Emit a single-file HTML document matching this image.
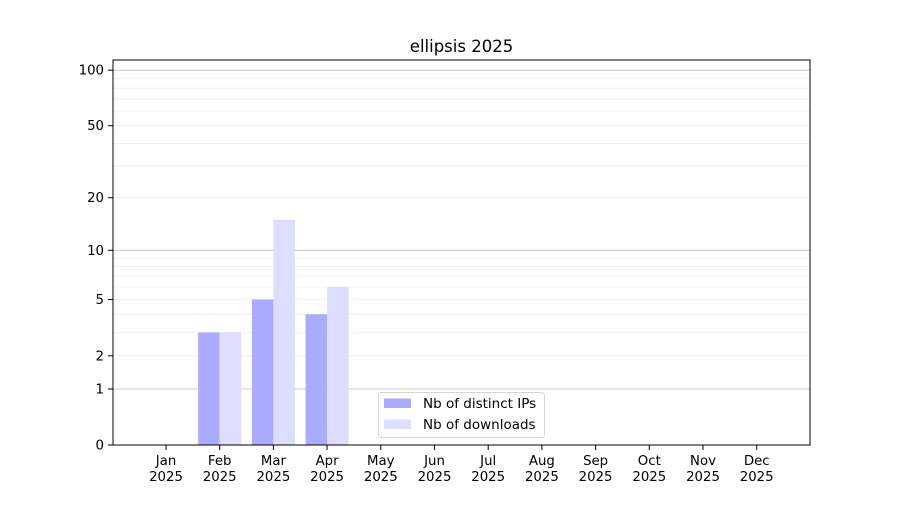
<!DOCTYPE html>
<html><head><meta charset="utf-8"><style>
body{margin:0;background:#fff}
svg text{font-family:"DejaVu Sans","Liberation Sans",sans-serif;fill:#000}
</style></head><body>
<svg width="900" height="500" viewBox="0 0 900 500" xmlns="http://www.w3.org/2000/svg">
<rect width="900" height="500" fill="#fff"/>
<g stroke="#ebebeb" stroke-width="0.8">
<line x1="113" x2="810" y1="355.8" y2="355.8"/>
<line x1="113" x2="810" y1="332.4" y2="332.4"/>
<line x1="113" x2="810" y1="314.3" y2="314.3"/>
<line x1="113" x2="810" y1="299.5" y2="299.5"/>
<line x1="113" x2="810" y1="287" y2="287"/>
<line x1="113" x2="810" y1="276.1" y2="276.1"/>
<line x1="113" x2="810" y1="266.6" y2="266.6"/>
<line x1="113" x2="810" y1="258" y2="258"/>
<line x1="113" x2="810" y1="197.7" y2="197.7"/>
<line x1="113" x2="810" y1="166.1" y2="166.1"/>
<line x1="113" x2="810" y1="143.4" y2="143.4"/>
<line x1="113" x2="810" y1="125.7" y2="125.7"/>
<line x1="113" x2="810" y1="111.1" y2="111.1"/>
<line x1="113" x2="810" y1="98.8" y2="98.8"/>
<line x1="113" x2="810" y1="88.1" y2="88.1"/>
<line x1="113" x2="810" y1="78.7" y2="78.7"/>
</g>
<g stroke="#cccccc" stroke-width="1">
<line x1="113" x2="810" y1="389" y2="389"/>
<line x1="113" x2="810" y1="250.3" y2="250.3"/>
<line x1="113" x2="810" y1="70.2" y2="70.2"/>
</g>
<g>
<rect x="198.2" y="332.4" width="21.5" height="112.6" fill="#aaaaff"/>
<rect x="219.7" y="332.4" width="21.5" height="112.6" fill="#ddddff"/>
<rect x="251.9" y="299.5" width="21.5" height="145.5" fill="#aaaaff"/>
<rect x="273.4" y="219.8" width="21.5" height="225.2" fill="#ddddff"/>
<rect x="305.6" y="314.3" width="21.5" height="130.7" fill="#aaaaff"/>
<rect x="327.1" y="287" width="21.5" height="158" fill="#ddddff"/>
</g>
<rect x="113" y="60" width="697" height="385" fill="none" stroke="#000" stroke-width="1"/>
<g stroke="#000" stroke-width="1">
<line x1="108" x2="113" y1="445" y2="445"/>
<line x1="108" x2="113" y1="389" y2="389"/>
<line x1="108" x2="113" y1="355.8" y2="355.8"/>
<line x1="108" x2="113" y1="299.5" y2="299.5"/>
<line x1="108" x2="113" y1="250.3" y2="250.3"/>
<line x1="108" x2="113" y1="197.7" y2="197.7"/>
<line x1="108" x2="113" y1="125.7" y2="125.7"/>
<line x1="108" x2="113" y1="70.2" y2="70.2"/>
</g>
<g font-size="13.3" text-anchor="end">
<text x="104" y="449.5">0</text>
<text x="104" y="393.5">1</text>
<text x="104" y="360.3">2</text>
<text x="104" y="304">5</text>
<text x="104" y="254.8">10</text>
<text x="104" y="202.2">20</text>
<text x="104" y="130.2">50</text>
<text x="104" y="74.7">100</text>
</g>
<g stroke="#000" stroke-width="1">
<line x1="166" x2="166" y1="445" y2="450"/>
<line x1="219.7" x2="219.7" y1="445" y2="450"/>
<line x1="273.4" x2="273.4" y1="445" y2="450"/>
<line x1="327.1" x2="327.1" y1="445" y2="450"/>
<line x1="380.8" x2="380.8" y1="445" y2="450"/>
<line x1="434.5" x2="434.5" y1="445" y2="450"/>
<line x1="488.2" x2="488.2" y1="445" y2="450"/>
<line x1="541.9" x2="541.9" y1="445" y2="450"/>
<line x1="595.6" x2="595.6" y1="445" y2="450"/>
<line x1="649.3" x2="649.3" y1="445" y2="450"/>
<line x1="703" x2="703" y1="445" y2="450"/>
<line x1="756.7" x2="756.7" y1="445" y2="450"/>
</g>
<g font-size="13.3" text-anchor="middle">
<text x="166" y="465">Jan</text><text x="166" y="481">2025</text>
<text x="219.7" y="465">Feb</text><text x="219.7" y="481">2025</text>
<text x="273.4" y="465">Mar</text><text x="273.4" y="481">2025</text>
<text x="327.1" y="465">Apr</text><text x="327.1" y="481">2025</text>
<text x="380.8" y="465">May</text><text x="380.8" y="481">2025</text>
<text x="434.5" y="465">Jun</text><text x="434.5" y="481">2025</text>
<text x="488.2" y="465">Jul</text><text x="488.2" y="481">2025</text>
<text x="541.9" y="465">Aug</text><text x="541.9" y="481">2025</text>
<text x="595.6" y="465">Sep</text><text x="595.6" y="481">2025</text>
<text x="649.3" y="465">Oct</text><text x="649.3" y="481">2025</text>
<text x="703" y="465">Nov</text><text x="703" y="481">2025</text>
<text x="756.7" y="465">Dec</text><text x="756.7" y="481">2025</text>
</g>
<text x="461.5" y="52" font-size="16.5" text-anchor="middle">ellipsis 2025</text>
<rect x="378.5" y="392.5" width="166" height="45" rx="3" fill="#fff" fill-opacity="0.8" stroke="#d5d5d5"/>
<rect x="384" y="398.5" width="27" height="9.5" fill="#aaaaff"/>
<rect x="384" y="419.5" width="27" height="9.5" fill="#ddddff"/>
<g font-size="13.5">
<text x="423" y="408">Nb of distinct IPs</text>
<text x="423" y="429">Nb of downloads</text>
</g>
</svg>
</body></html>
